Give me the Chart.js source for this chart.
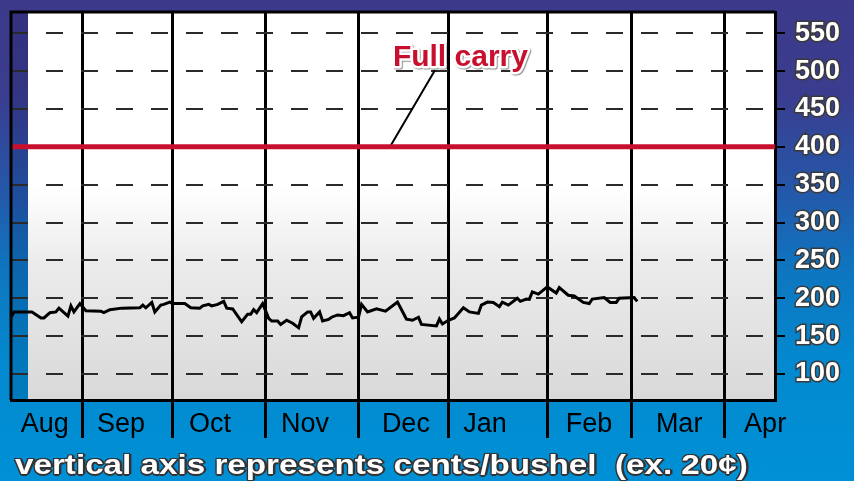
<!DOCTYPE html>
<html>
<head>
<meta charset="utf-8">
<script src="https://cdn.jsdelivr.net/npm/chart.js@4/dist/chart.umd.min.js"></script>
<style>
  html, body { margin: 0; padding: 0; }
  body {
    width: 854px; height: 481px; overflow: hidden; position: relative;
    background: linear-gradient(to bottom, #3c398a 0%, #3a3d8f 20%, #2458aa 40%, #0f74bf 55%, #0389cf 75%, #0090d5 100%);
    font-family: "Liberation Sans", Arial, sans-serif;
  }
  #wrap { position: absolute; left: 0; top: 0; width: 854px; height: 481px; }
  #caption {
    position: absolute; left: 15px; top: 449px; white-space: pre;
    color: #fff; font-weight: bold; font-size: 27px; line-height: 32px;
    transform: scaleX(1.23); transform-origin: left center;
    text-shadow: -1px -1px 0 #333, 1px -1px 0 #333, -1px 1px 0 #333, 1px 1px 0 #333, 0 2px 0 #333, 2px 0 0 #333;
  }
</style>
</head>
<body>
<div id="wrap"><canvas id="spreadChart" width="854" height="481"></canvas></div>
<div id="caption">vertical axis represents cents/bushel  (ex. 20¢)</div>
<script>
// month boundaries and label positions (in days from the start of Aug)
const monthStarts = [24, 54, 85, 116, 146, 179, 207, 238];
const monthNames = ["Aug", "Sep", "Oct", "Nov", "Dec", "Jan", "Feb", "Mar", "Apr"];
const monthLabelDays = [11.3, 36.7, 66.4, 98.1, 131.8, 158.2, 192.9, 223, 251.7];
const yTicks = [100, 150, 200, 250, 300, 350, 400, 450, 500, 550];
const fullCarry = 400;

// spread, cents/bushel
const days = [0, 1, 7, 10, 11, 13, 15, 16, 19, 20, 21, 23, 25, 30, 31, 33, 37, 43, 44, 45,
  47, 48, 50, 51, 53, 54, 58, 60, 63, 64, 66, 67, 69, 71, 72, 74, 77, 79, 80, 81,
  82, 84, 86, 87, 89, 90, 92, 94, 96, 97, 99, 100, 101, 103, 104, 106, 107, 109, 111, 113,
  114, 116, 117, 119, 122, 125, 129, 131, 132, 134, 136, 137, 142, 143, 144, 146, 148, 151, 153, 156,
  157, 159, 161, 163, 164, 166, 169, 170, 172, 173, 174, 176, 179, 182, 183, 186, 188, 191, 193, 194,
  198, 200, 202, 203, 208, 209];
const spread = [175, 182, 182, 174, 174, 181, 182, 187, 176.5, 190, 182, 193, 183.5, 183, 181, 185, 187, 187.5, 191, 187.5,
  194.5, 182, 191, 192, 195, 193, 193, 187.5, 187, 190, 192, 190, 192, 196, 187, 186, 169, 179, 179, 185,
  181, 193, 173.5, 170, 170, 165.5, 171, 167, 161, 175.5, 182, 182, 173.5, 182, 170, 172, 175, 178, 177, 181,
  174, 175, 192, 182, 186, 183, 195, 180, 172.5, 171, 175, 165.5, 163.5, 172.5, 166, 171, 174, 187.5, 182, 180,
  191, 195, 194.5, 189, 195, 191, 200, 196, 199, 198.5, 208.5, 205.5, 215, 207, 214, 204, 203, 194.5, 193, 199,
  201, 194.5, 194.5, 200, 201, 196];

// "Full carry" label and its leader line
const labelDay = 150, labelValue = 518;
const leaderDays = [126.5, 141.5];
const leaderValues = [fullCarry, 501];

const plotBackground = {
  id: "plotBackground",
  beforeDraw(chart) {
    const { ctx, chartArea: a } = chart;
    const strip = 17;
    ctx.save();
    ctx.fillStyle = "rgba(0,0,50,0.12)";
    ctx.fillRect(a.left, a.top, strip, a.bottom - a.top);
    const g = ctx.createLinearGradient(0, a.top, 0, a.bottom);
    g.addColorStop(0, "#ffffff");
    g.addColorStop(0.45, "#ffffff");
    g.addColorStop(0.65, "#ebebeb");
    g.addColorStop(1, "#d9d9d9");
    ctx.fillStyle = g;
    ctx.fillRect(a.left + strip, a.top, a.right - a.left - strip, a.bottom - a.top);
    ctx.restore();
  },
  afterDraw(chart) {
    const { ctx, chartArea: a, scales } = chart;
    ctx.save();
    // left and top frame
    ctx.strokeStyle = "#000";
    ctx.lineWidth = 3;
    ctx.beginPath();
    ctx.moveTo(a.left, a.bottom);
    ctx.lineTo(a.left, a.top);
    ctx.lineTo(a.right, a.top);
    ctx.stroke();
    // annotation text
    const x = scales.x.getPixelForValue(labelDay);
    const y = scales.y.getPixelForValue(labelValue);
    ctx.font = 'bold 30px "Liberation Sans", Arial, sans-serif';
    ctx.textAlign = "center";
    ctx.textBaseline = "middle";
    ctx.lineJoin = "round";
    ctx.shadowColor = "rgba(0,0,0,0.45)";
    ctx.shadowOffsetX = 1;
    ctx.shadowOffsetY = 1;
    ctx.shadowBlur = 1;
    ctx.strokeStyle = "#ffffff";
    ctx.lineWidth = 5;
    ctx.strokeText("Full carry", x, y);
    ctx.shadowColor = "transparent";
    ctx.fillStyle = "#c8102e";
    ctx.fillText("Full carry", x, y);
    ctx.restore();
  }
};

const isBoundary = v => monthStarts.includes(v);

new Chart(document.getElementById("spreadChart").getContext("2d"), {
  type: "line",
  data: {
    datasets: [
      { label: "Spread", data: days.map((d, i) => ({ x: d, y: spread[i] })), borderColor: "#000", borderWidth: 3, pointRadius: 0, tension: 0 },
      { label: "Full carry", data: [{ x: 0, y: fullCarry }, { x: 255, y: fullCarry }], borderColor: "#c8102e", borderWidth: 5, pointRadius: 0 },
      { label: "leader", data: leaderDays.map((d, i) => ({ x: d, y: leaderValues[i] })), borderColor: "#000", borderWidth: 2, pointRadius: 0 }
    ]
  },
  options: {
    responsive: false,
    animation: false,
    layout: { padding: { top: 12, left: 11, right: 0, bottom: 0 } },
    plugins: { legend: { display: false }, tooltip: { enabled: false } },
    scales: {
      x: {
        type: "linear", min: 0, max: 255,
        afterBuildTicks(axis) {
          axis.ticks = monthStarts.concat(monthLabelDays).map(v => ({ value: v }));
        },
        afterFit(axis) {
          axis.height = 81;
          axis.paddingLeft = 0; axis.paddingRight = 0;
        },
        grid: {
          drawOnChartArea: true,
          color: c => isBoundary(c.tick && c.tick.value) ? "#000" : "rgba(0,0,0,0)",
          lineWidth: 3,
          tickLength: 38,
          tickColor: c => isBoundary(c.tick && c.tick.value) ? "#000" : "rgba(0,0,0,0)",
          tickWidth: 3
        },
        border: { display: true, color: "#000", width: 3 },
        ticks: {
          autoSkip: false, maxRotation: 0, padding: -30,
          color: "#000",
          font: { family: '"Liberation Sans", Arial, sans-serif', size: 27 },
          callback: v => {
            const i = monthLabelDays.indexOf(v);
            return i >= 0 ? monthNames[i] : "";
          }
        }
      },
      y: {
        position: "right", min: 65.7, max: 578,
        afterBuildTicks(axis) { axis.ticks = yTicks.map(v => ({ value: v })); },
        afterFit(axis) {
          axis.width = 79;
          axis.paddingTop = 0; axis.paddingBottom = 0;
        },
        grid: {
          color: "#2a2a2a", lineWidth: 2,
          tickLength: 10, tickColor: "#000", tickWidth: 2, tickBorderDash: []
        },
        border: { display: true, color: "#000", width: 3, dash: [17, 18], dashOffset: 0 },
        ticks: {
          padding: 10, color: "#fff",
          textStrokeColor: "#3a3a3a", textStrokeWidth: 3,
          font: { family: '"Liberation Sans", Arial, sans-serif', size: 27, weight: "bold" }
        }
      }
    }
  },
  plugins: [plotBackground]
});
</script>
</body>
</html>
